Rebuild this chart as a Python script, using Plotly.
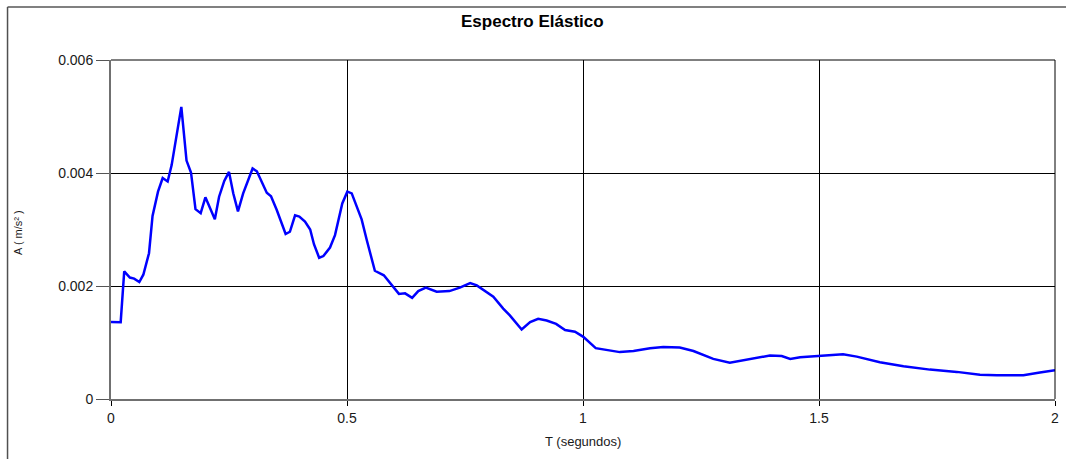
import plotly.graph_objects as go

# Periodo T (s) y aceleración espectral A (m/s²)
periodo = [0.000, 0.0205, 0.028, 0.040, 0.049, 0.060, 0.0685, 0.0805, 0.088, 0.0996,
           0.1095, 0.120, 0.1285, 0.149, 0.160, 0.1695, 0.179, 0.190, 0.200, 0.220,
           0.229, 0.240, 0.250, 0.259, 0.269, 0.280, 0.300, 0.309, 0.330, 0.339,
           0.351, 0.370, 0.379, 0.390, 0.399, 0.411, 0.422, 0.430, 0.441, 0.450,
           0.464, 0.4746, 0.490, 0.5007, 0.510, 0.531, 0.542, 0.559, 0.578, 0.595,
           0.610, 0.623, 0.638, 0.651, 0.667, 0.690, 0.717, 0.739, 0.761, 0.775,
           0.810, 0.831, 0.845, 0.870, 0.888, 0.905, 0.923, 0.943, 0.962, 0.983,
           1.0007, 1.027, 1.057, 1.078, 1.107, 1.142, 1.170, 1.205, 1.234, 1.276,
           1.311, 1.347, 1.396, 1.421, 1.439, 1.460, 1.501, 1.551, 1.580, 1.629,
           1.679, 1.735, 1.792, 1.841, 1.877, 1.933, 1.968, 2.000]
aceleracion = [0.001363, 0.00136, 0.00226, 0.00215, 0.00213, 0.00207, 0.00220, 0.00258, 0.00324, 0.00367,
               0.00391, 0.00385, 0.00414, 0.00517, 0.00422, 0.00401, 0.00336, 0.00329, 0.00357, 0.00318,
               0.00358, 0.00386, 0.00402, 0.00364, 0.00332, 0.00364, 0.00408, 0.00403, 0.00365, 0.00359,
               0.00335, 0.00292, 0.00296, 0.00325, 0.00323, 0.00314, 0.00300, 0.00274, 0.00250, 0.00253,
               0.00268, 0.00290, 0.00346, 0.00367, 0.00364, 0.00318, 0.00281, 0.00227, 0.00219, 0.00201,
               0.00186, 0.00187, 0.00179, 0.00191, 0.00197, 0.00190, 0.00191, 0.00197, 0.00205, 0.00201,
               0.00181, 0.00160, 0.00148, 0.00123, 0.00136, 0.00142, 0.00139, 0.00133, 0.00122, 0.00119,
               0.00110, 0.00090, 0.00086, 0.00083, 0.00085, 0.00090, 0.00092, 0.00091, 0.00085, 0.00071,
               0.00064, 0.00070, 0.00077, 0.00076, 0.00071, 0.00074, 0.00076, 0.00079, 0.00075, 0.00065,
               0.00058, 0.00052, 0.00048, 0.00043, 0.00042, 0.00042, 0.00047, 0.00051]

FONT = "Liberation Sans, Arial, sans-serif"

fig = go.Figure()
fig.add_trace(go.Scatter(x=periodo, y=aceleracion, mode="lines",
                         line=dict(color="#0000FF", width=2.5), hoverinfo="skip"))

fig.update_layout(
    width=1066, height=459,
    margin=dict(l=111, r=11, t=60, b=60, autoexpand=False),
    paper_bgcolor="white", plot_bgcolor="white",
    showlegend=False,
    font=dict(family=FONT, size=14, color="#000000"),
    xaxis=dict(range=[0, 2], dtick=0.5, tick0=0, showgrid=True, gridcolor="#000000", gridwidth=1,
               zeroline=False, showline=True, linecolor="#707070", linewidth=2,
               ticks="outside", ticklen=5, tickcolor="#000000", tickwidth=1, automargin=False,
               tickfont=dict(family=FONT, size=14, color="#1a1a1a")),
    yaxis=dict(range=[0, 0.006], dtick=0.002, tick0=0, showgrid=True, gridcolor="#000000", gridwidth=1,
               zeroline=False, showline=True, linecolor="#707070", linewidth=2,
               ticks="outside", ticklen=13, tickcolor="#555555", tickwidth=1, automargin=False,
               tickfont=dict(family=FONT, size=14, color="#1a1a1a")),
    shapes=[
        # borde superior y derecho del área de trazado
        dict(type="line", xref="paper", yref="paper", x0=0, x1=1, y0=1, y1=1,
             line=dict(color="#000000", width=1)),
        dict(type="line", xref="paper", yref="paper", x0=1, x1=1, y0=0, y1=1,
             line=dict(color="#000000", width=1)),
        # marco exterior del gráfico
        dict(type="line", xref="paper", yref="paper", x0=-0.1096, x1=1.02, y0=1.156, y1=1.156,
             line=dict(color="#808080", width=2)),
        dict(type="line", xref="paper", yref="paper", x0=-0.1096, x1=-0.1096, y0=-0.2, y1=1.156,
             line=dict(color="#505050", width=1.5)),
    ],
    annotations=[
        dict(text="<b>Espectro Elástico</b>", xref="paper", yref="paper", x=0.447, y=1.114,
             xanchor="center", yanchor="middle", showarrow=False,
             font=dict(family=FONT, size=17, color="#000000")),
        dict(text="T (segundos)", xref="paper", yref="paper", x=0.5, y=-0.1257,
             xanchor="center", yanchor="middle", showarrow=False,
             font=dict(family=FONT, size=13, color="#1a1a1a")),
        dict(text="A ( m/s² )", xref="paper", yref="paper", x=-0.0985, y=0.49,
             xanchor="center", yanchor="middle", showarrow=False, textangle=-90,
             font=dict(family=FONT, size=11, color="#1a1a1a")),
    ],
)

fig.write_html("out.html")
